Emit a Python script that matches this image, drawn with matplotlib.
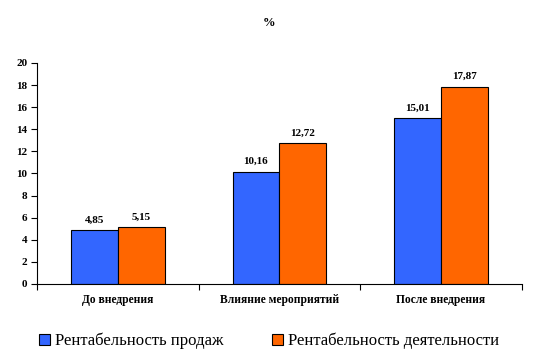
import numpy as np
import matplotlib
matplotlib.use('Agg')
from matplotlib import pyplot as plt
from matplotlib.patches import Patch

categories = ['До внедрения', 'Влияние мероприятий', 'После внедрения']
sales = [4.85, 10.16, 15.01]
activity = [5.15, 12.72, 17.87]
series_names = ['Рентабельность продаж', 'Рентабельность деятельности']

plt.rcParams['font.family'] = ['Liberation Serif', 'DejaVu Serif']

fig = plt.figure(figsize=(5.39, 3.61), dpi=100)
ax = fig.add_axes([0.0686, 0.2133, 0.8994, 0.6122])

x = np.arange(len(categories))
w = 0.29
blue = '#3366FF'
orange = '#FF6600'
b1 = ax.bar(x - w / 2, sales, w, color=blue, edgecolor='black', linewidth=0.8)
b2 = ax.bar(x + w / 2, activity, w, color=orange, edgecolor='black', linewidth=0.8)

for bars, vals in ((b1, sales), (b2, activity)):
    for r, v in zip(bars, vals):
        ax.text(r.get_x() + r.get_width() / 2, v + 0.5, f'{v:.2f}'.replace('.', ','),
                ha='center', va='bottom', fontsize=8, fontweight='bold')

ax.set_xlim(-0.5, 2.5)
ax.set_ylim(0, 20)
ax.set_yticks(range(0, 21, 2))
ax.set_xticks([-0.5, 0.5, 1.5, 2.5])
ax.set_xticklabels([])
ax.set_xticks(x, minor=True)
ax.set_xticklabels(categories, minor=True, fontsize=8.3, fontweight='bold')
ax.tick_params(axis='x', which='minor', length=0, pad=7)
ax.tick_params(axis='x', which='major', length=4, direction='out')
ax.tick_params(axis='y', length=4, direction='out', labelsize=8, pad=3)
for lab in ax.get_yticklabels():
    lab.set_fontweight('bold')

ax.spines['top'].set_visible(False)
ax.spines['right'].set_visible(False)

fig.text(0.5, 0.935, '%', ha='center', va='center', fontsize=9, fontweight='bold')

handles = [Patch(facecolor=blue, edgecolor='black', linewidth=0.8),
           Patch(facecolor=orange, edgecolor='black', linewidth=0.8)]
fig.legend(handles, series_names, loc='center left', bbox_to_anchor=(0.072, 0.055),
           ncol=2, frameon=False, fontsize=12, handlelength=0.65, handleheight=0.65,
           handletextpad=0.3, columnspacing=2.95, borderaxespad=0, borderpad=0)

fig.savefig('out.png', dpi=100)
